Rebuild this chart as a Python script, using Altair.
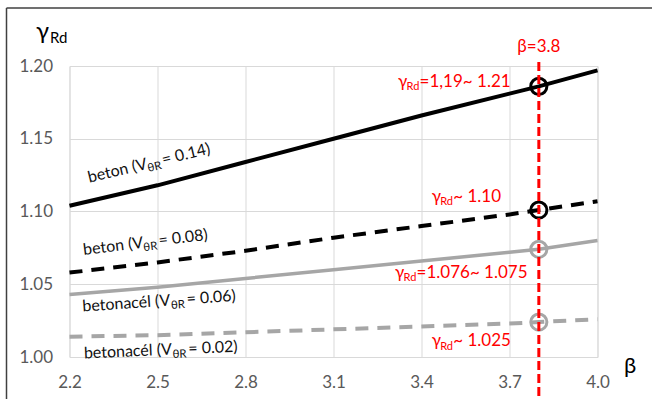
import altair as alt
import pandas as pd

# ---- data ----
beta = [2.2, 2.5, 2.8, 3.1, 3.4, 3.7, 3.8, 4.0]
beton_014 = [1.104, 1.118, 1.134, 1.150, 1.166, 1.181, 1.186, 1.197]
beton_008 = [1.058, 1.065, 1.073, 1.082, 1.090, 1.098, 1.101, 1.107]
betonacel_006 = [1.043, 1.048, 1.054, 1.060, 1.066, 1.072, 1.074, 1.080]
betonacel_002 = [1.014, 1.015, 1.017, 1.019, 1.021, 1.023, 1.024, 1.026]
series_names = ["beton_014", "beton_008", "betonacel_006", "betonacel_002"]
x_ticks = [2.2, 2.5, 2.8, 3.1, 3.4, 3.7, 4.0]
y_ticks = [1.0, 1.05, 1.1, 1.15, 1.2]
beta_mark = 3.8

rows = []
for name, vals in zip(series_names, [beton_014, beton_008, betonacel_006, betonacel_002]):
    for b, g in zip(beta, vals):
        rows.append({"series": name, "beta": b, "gamma": g})
df = pd.DataFrame(rows)

# ---- annotation texts (positions in data units, kept apart from data) ----
rot_labels = [
    dict(b=2.2675, g=1.1198, angle=346.5, parts=["beton (V", "θR", "= 0.14)"], wA=59),
    dict(b=2.249, g=1.0701, angle=353, parts=["beton (V", "θR", "= 0.08)"], wA=59),
    dict(b=2.245, g=1.0312, angle=356, parts=["betonacél (V", "θR", "= 0.06)"], wA=87.5),
    dict(b=2.250, g=0.9990, angle=357.5, parts=["betonacél (V", "θR", "= 0.02)"], wA=87.5),
]
red_labels = [
    dict(b=3.320, g=1.1858, parts=["γ", "Rd", "=1,19~ 1.21"]),
    dict(b=3.435, g=1.1066, parts=["γ", "Rd", "~ 1.10"]),
    dict(b=3.310, g=1.0546, parts=["γ", "Rd", "=1.076~ 1.075"]),
    dict(b=3.435, g=1.0074, parts=["γ", "Rd", "~ 1.025"]),
]

FONT = "Lato"
W, H = 528, 291
PAD_L, PAD_T = 69.5, 66

x_scale = alt.Scale(domain=[2.2, 4.0], nice=False, zero=False)
y_scale = alt.Scale(domain=[1.0, 1.2], nice=False, zero=False)
X = alt.X("beta:Q", scale=x_scale,
          axis=alt.Axis(values=x_ticks, format=".1f", title=None, grid=True,
                        gridColor="#d9d9d9", gridWidth=1, domain=False, ticks=False,
                        labelFontSize=17, labelColor="#595959", labelPadding=17,
                        labelFlush=False, labelOverlap=False, labelFont=FONT))
Y = alt.Y("gamma:Q", scale=y_scale,
          axis=alt.Axis(values=y_ticks, format=".2f", title=None, grid=True,
                        gridColor="#d9d9d9", gridWidth=1, domain=False, ticks=False,
                        labelFontSize=17, labelColor="#595959", labelPadding=17,
                        labelOverlap=False, labelFont=FONT))

styles = {
    "beton_014": dict(color="#000000", strokeWidth=4),
    "beton_008": dict(color="#000000", strokeWidth=4, strokeDash=[13, 9]),
    "betonacel_006": dict(color="#a6a6a6", strokeWidth=3.5),
    "betonacel_002": dict(color="#a6a6a6", strokeWidth=4, strokeDash=[13, 9]),
}

layers = []
for name in series_names:
    layers.append(
        alt.Chart(df).transform_filter(alt.datum.series == name)
        .mark_line(**styles[name]).encode(x=X, y=Y)
    )
for name in series_names:
    layers.append(
        alt.Chart(df).transform_filter((alt.datum.series == name) & (alt.datum.beta == beta_mark))
        .mark_point(shape="circle", filled=False, size=260, strokeWidth=3,
                    color=styles[name]["color"], opacity=1).encode(x=X, y=Y)
    )

one = pd.DataFrame({"beta": [beta_mark], "gamma": [1.2]})

# red vertical dashed line at beta = 3.8
layers.append(
    alt.Chart(one).mark_rule(color="#ff0000", strokeWidth=3, strokeDash=[9, 4])
    .encode(x=X, y=alt.value(-4), y2=alt.value(399 - PAD_T))
)
# beta=3.8 label
layers.append(
    alt.Chart(one).mark_text(text="β=3.8", font=FONT, fontSize=17, color="#ff0000",
                             align="center", baseline="alphabetic")
    .encode(x=X, y=alt.value(52 - PAD_T))
)

# rotated black labels
for lab in rot_labels:
    d = pd.DataFrame({"beta": [lab["b"]], "gamma": [lab["g"]]})
    a, s, c = lab["parts"]
    layers.append(alt.Chart(d).mark_text(text=a, font=FONT, fontSize=16, color="#111111",
                                         align="left", baseline="alphabetic", angle=lab["angle"])
                  .encode(x=X, y=Y))
    layers.append(alt.Chart(d).mark_text(text=s, font=FONT, fontSize=11.5, color="#111111",
                                         align="left", baseline="alphabetic", angle=lab["angle"],
                                         dx=lab["wA"] + 1, dy=3.5)
                  .encode(x=X, y=Y))
    layers.append(alt.Chart(d).mark_text(text=c, font=FONT, fontSize=16, color="#111111",
                                         align="left", baseline="alphabetic", angle=lab["angle"],
                                         dx=lab["wA"] + 17)
                  .encode(x=X, y=Y))

# red value labels
for lab in red_labels:
    d = pd.DataFrame({"beta": [lab["b"]], "gamma": [lab["g"]]})
    a, s, c = lab["parts"]
    layers.append(alt.Chart(d).mark_text(text=a, font=FONT, fontSize=17, color="#ff0000",
                                         align="left", baseline="alphabetic")
                  .encode(x=X, y=Y))
    layers.append(alt.Chart(d).mark_text(text=s, font=FONT, fontSize=11, color="#ff0000",
                                         align="left", baseline="alphabetic", dx=8.5, dy=3.5)
                  .encode(x=X, y=Y))
    layers.append(alt.Chart(d).mark_text(text=c, font=FONT, fontSize=17, color="#ff0000",
                                         align="left", baseline="alphabetic", dx=21.5)
                  .encode(x=X, y=Y))

# axis titles (gamma_Rd on top-left, beta at right)
layers.append(alt.Chart(one).mark_text(text="γ", font=FONT, fontSize=24, color="#000000",
                                       align="left", baseline="alphabetic")
              .encode(x=alt.value(36 - PAD_L), y=alt.value(39 - PAD_T)))
layers.append(alt.Chart(one).mark_text(text="Rd", font=FONT, fontSize=15, color="#000000",
                                       align="left", baseline="alphabetic")
              .encode(x=alt.value(50 - PAD_L), y=alt.value(43 - PAD_T)))
layers.append(alt.Chart(one).mark_text(text="β", font=FONT, fontSize=22, color="#000000",
                                       align="center", baseline="middle")
              .encode(x=alt.value(630 - PAD_L), y=alt.value(366 - PAD_T)))

# outer frame (left and top edges)
layers.append(alt.Chart(one).mark_rule(color="#404040", strokeWidth=1.5)
              .encode(x=alt.value(6.5 - PAD_L), y=alt.value(8 - PAD_T), y2=alt.value(399 - PAD_T)))
layers.append(alt.Chart(one).mark_rule(color="#404040", strokeWidth=1.5)
              .encode(x=alt.value(6.5 - PAD_L), x2=alt.value(652 - PAD_L), y=alt.value(8 - PAD_T)))

chart = alt.layer(*layers).properties(
    width=W, height=H,
    autosize=alt.AutoSizeParams(type="none"),
    padding={"left": PAD_L, "top": PAD_T, "right": 652 - PAD_L - W, "bottom": 399 - PAD_T - H},
    background="#ffffff",
).configure_view(stroke=None).configure(font=FONT)

chart.save("out.html", embed_options={"renderer": "svg", "actions": False})
